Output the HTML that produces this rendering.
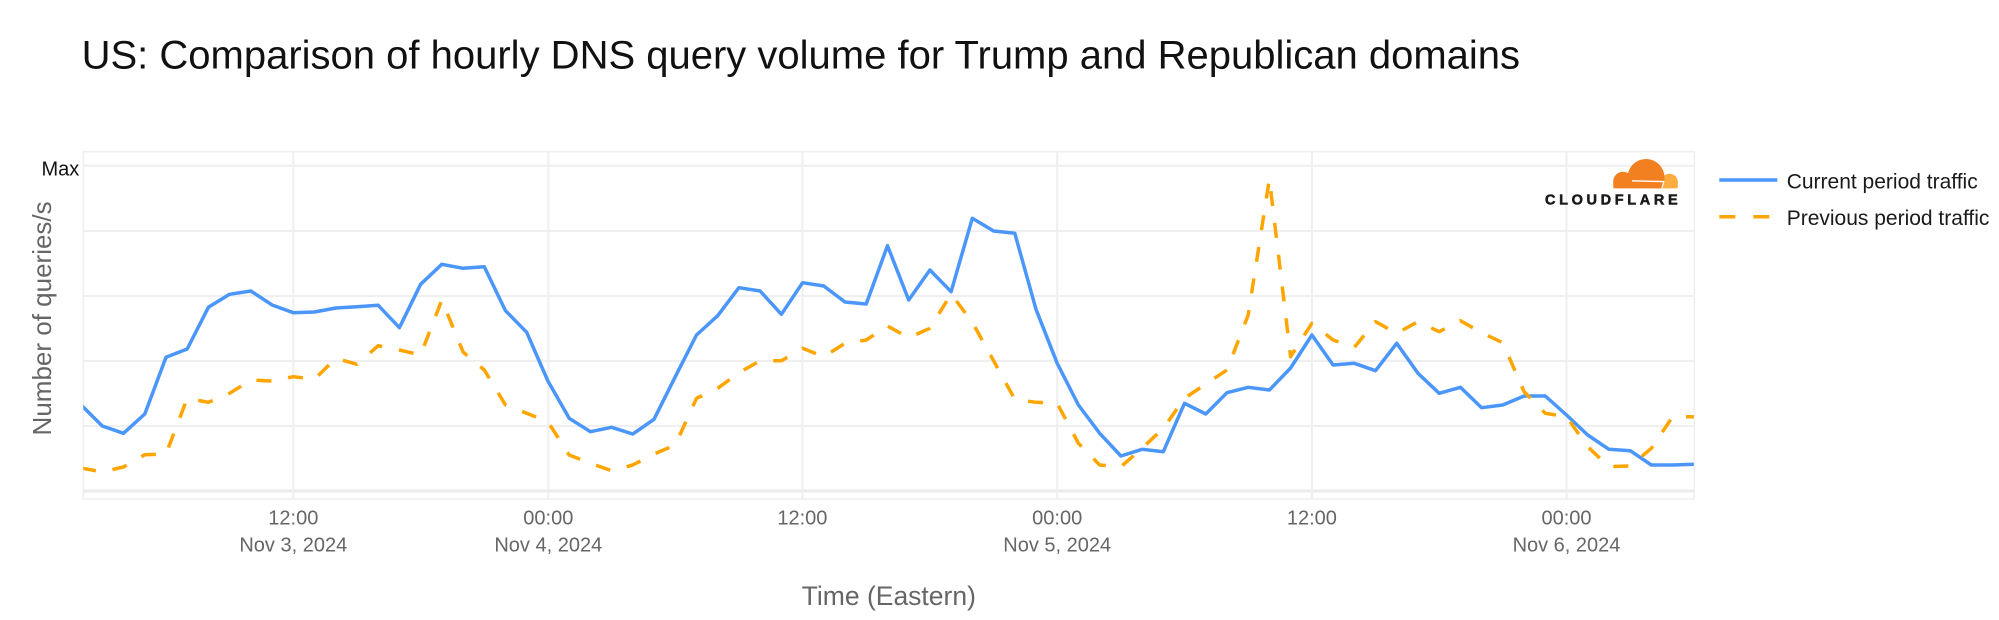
<!DOCTYPE html>
<html>
<head>
<meta charset="utf-8">
<style>
  html, body { margin: 0; padding: 0; background: #ffffff; }
  body { width: 1999px; height: 620px; overflow: hidden; }
  svg { display: block; }
  text { font-family: "Liberation Sans", Arial, Helvetica, sans-serif; }
</style>
</head>
<body>
<svg width="1999" height="620" viewBox="0 0 1999 620" xmlns="http://www.w3.org/2000/svg">
  <defs>
    <clipPath id="plotclip">
      <rect x="83.3" y="151.7" width="1611" height="347.3"/>
    </clipPath>
    <clipPath id="logoclip">
      <rect x="1600" y="150" width="90" height="38.3"/>
    </clipPath>
  </defs>

  <!-- Title -->
  <text x="81.6" y="68.3" font-size="40" fill="#111111">US: Comparison of hourly DNS query volume for Trump and Republican domains</text>

  <!-- Plot frame -->
  <rect x="83.3" y="151.7" width="1611" height="347.3" fill="#ffffff" stroke="#efefef" stroke-width="1.5"/>

  <!-- Horizontal gridlines -->
  <g stroke="#efefef" stroke-width="2">
    <line x1="83.3" y1="165.7" x2="1694.3" y2="165.7"/>
    <line x1="83.3" y1="231" x2="1694.3" y2="231"/>
    <line x1="83.3" y1="296" x2="1694.3" y2="296"/>
    <line x1="83.3" y1="361" x2="1694.3" y2="361"/>
    <line x1="83.3" y1="426" x2="1694.3" y2="426"/>
  </g>
  <line x1="83.3" y1="491" x2="1694.3" y2="491" stroke="#ebebeb" stroke-width="3"/>

  <!-- Vertical gridlines -->
  <g stroke="#efefef" stroke-width="2">
    <line x1="293.3" y1="151.7" x2="293.3" y2="499"/>
    <line x1="548.3" y1="151.7" x2="548.3" y2="499"/>
    <line x1="802.4" y1="151.7" x2="802.4" y2="499"/>
    <line x1="1057.2" y1="151.7" x2="1057.2" y2="499"/>
    <line x1="1311.9" y1="151.7" x2="1311.9" y2="499"/>
    <line x1="1566.5" y1="151.7" x2="1566.5" y2="499"/>
  </g>

  <!-- Y tick label -->
  <text x="79.3" y="175.5" font-size="20" fill="#111111" text-anchor="end">Max</text>

  <!-- X tick labels -->
  <g font-size="20" fill="#666666" text-anchor="middle">
    <text x="293.3" y="524.3">12:00</text>
    <text x="293.3" y="551.7">Nov 3, 2024</text>
    <text x="548.3" y="524.3">00:00</text>
    <text x="548.3" y="551.7">Nov 4, 2024</text>
    <text x="802.4" y="524.3">12:00</text>
    <text x="1057.2" y="524.3">00:00</text>
    <text x="1057.2" y="551.7">Nov 5, 2024</text>
    <text x="1311.9" y="524.3">12:00</text>
    <text x="1566.5" y="524.3">00:00</text>
    <text x="1566.5" y="551.7">Nov 6, 2024</text>
  </g>

  <!-- Axis titles -->
  <text x="888.8" y="605" font-size="26.5" fill="#666666" text-anchor="middle">Time (Eastern)</text>
  <text transform="translate(51,318.4) rotate(-90)" x="0" y="0" font-size="26" fill="#666666" text-anchor="middle">Number of queries/s</text>

  <!-- Series -->
  <g clip-path="url(#plotclip)" fill="none" stroke-linejoin="round">
    <polyline stroke="#4a96fb" stroke-width="3.5" points="81.1,405 102.3,426 123.5,433.3 144.8,414 166,357.3 187.2,349 208.4,307.3 229.6,294.3 250.9,291 272.1,305 293.3,312.7 314.5,312 335.7,308 357,306.7 378.2,305.3 399.4,327.7 420.6,284.3 441.8,264.3 463.1,268.3 484.3,266.7 505.5,310.7 526.7,332.3 547.9,381 569.2,418.3 590.4,431.7 611.6,427.3 632.8,434 654,419.3 675.3,376.7 696.5,335 717.7,315.7 738.9,287.7 760.1,291 781.4,314.3 802.6,282.7 823.8,286 845,302 866.2,304 887.5,245.7 908.7,300 929.9,270 951.1,291.7 972.3,218.3 993.6,231 1014.8,233.3 1036,309.3 1057.2,363.3 1078.4,405 1099.7,433.3 1120.9,456 1142.1,449.3 1163.3,451.7 1184.5,403.3 1205.8,414 1227,392.7 1248.2,387.3 1269.4,390 1290.6,368 1311.9,335 1333.1,365 1354.3,363.3 1375.5,370.7 1396.7,343.3 1418,373.3 1439.2,393.3 1460.4,387.3 1481.6,407.7 1502.8,405 1524.1,396 1545.3,396 1566.5,415 1587.7,435 1608.9,449.3 1630.2,450.7 1651.4,465 1672.6,465 1693.8,464.3"/>
    <polyline stroke="#ffa500" stroke-width="3.5" stroke-dasharray="15,17" points="81.1,468 102.3,472 123.5,467 144.8,454.7 166,454 187.2,398.3 208.4,402.3 229.6,393.3 250.9,380 272.1,381 293.3,376.7 314.5,379.3 335.7,358.3 357,364.3 378.2,345.7 399.4,350 420.6,355 441.8,300 463.1,352 484.3,370 505.5,405 526.7,413.3 547.9,421.7 569.2,455 590.4,463.3 611.6,470.7 632.8,465 654,454 675.3,445 696.5,398.3 717.7,388.3 738.9,372.7 760.1,360.7 781.4,360.7 802.6,348.3 823.8,356.7 845,343.3 866.2,340 887.5,326 908.7,337.7 929.9,328.3 951.1,294 972.3,322.3 993.6,360.7 1014.8,399.3 1036,402.3 1057.2,403.3 1078.4,443.3 1099.7,465 1120.9,466.7 1142.1,448.3 1163.3,428.3 1184.5,398.3 1205.8,384 1227,370 1248.2,315 1269.4,179 1290.6,356.7 1311.9,323.3 1333.1,340 1354.3,347.3 1375.5,321.7 1396.7,333.3 1418,321.7 1439.2,331.7 1460.4,320.7 1481.6,332.7 1502.8,342.7 1524.1,391.7 1545.3,413.3 1566.5,416.7 1587.7,446.7 1608.9,466.7 1630.2,466 1651.4,448.3 1672.6,416.7 1693.8,416.7"/>
  </g>

  <!-- Cloudflare logo -->
  <g clip-path="url(#logoclip)">
    <!-- light right part -->
    <circle cx="1669.5" cy="182" r="8.3" fill="#fbad41"/>
    <rect x="1660" y="182" width="17.8" height="8" fill="#fbad41"/>
    <!-- main orange -->
    <circle cx="1646" cy="177.5" r="18.5" fill="#f38020"/>
    <circle cx="1623" cy="181.5" r="9.8" fill="#f38020"/>
    <rect x="1613.3" y="181" width="46" height="8" fill="#f38020"/>
    <polygon points="1655,178 1664.5,178 1662.5,189 1655,189" fill="#f38020"/>
    <!-- white streak -->
    <line x1="1632" y1="180.8" x2="1664" y2="181.6" stroke="#ffffff" stroke-width="1.4"/>
    <line x1="1664" y1="181.6" x2="1661.5" y2="189" stroke="#ffffff" stroke-width="1.2"/>
  </g>
  <text x="1545" y="204.3" font-size="14.5" font-weight="bold" fill="#1a1a1a" stroke="#1a1a1a" stroke-width="0.5" textLength="132.7" lengthAdjust="spacing">CLOUDFLARE</text>

  <!-- Legend -->
  <line x1="1719.3" y1="180" x2="1777.3" y2="180" stroke="#4a96fb" stroke-width="3.5"/>
  <text x="1786.7" y="188.3" font-size="21" fill="#1a1a1a">Current period traffic</text>
  <line x1="1719.3" y1="216.7" x2="1777.3" y2="216.7" stroke="#ffa500" stroke-width="3.5" stroke-dasharray="16,18"/>
  <text x="1786.7" y="225" font-size="21" fill="#1a1a1a">Previous period traffic</text>
</svg>
</body>
</html>
